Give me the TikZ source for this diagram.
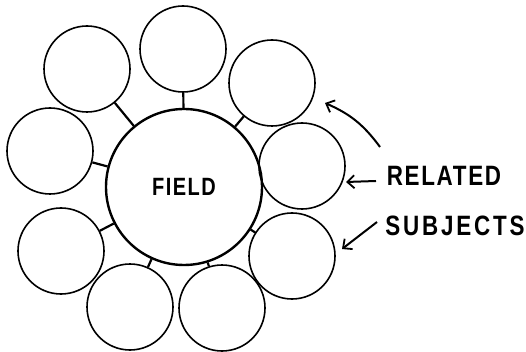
\documentclass[tikz,border=0pt]{standalone}
\usepackage{fontspec}
\newfontfamily\handfont[FakeStretch=0.8,LetterSpace=6]{Liberation Sans}
\newfontfamily\handwide[FakeStretch=0.8,LetterSpace=10]{Liberation Sans}
\usetikzlibrary{arrows.meta}
\tikzset{
  sat/.style={circle, draw, line width=1.6pt, inner sep=0pt, minimum size=86pt},
  hub/.style={circle, draw, line width=2.4pt, inner sep=0pt, minimum size=156pt, font=\handfont\bfseries\fontsize{25}{25}\selectfont},
  link/.style={line width=2.2pt},
  pointer/.style={line width=2pt, -{Straight Barb[length=7pt,width=13pt,line width=1.8pt]}},
  lbl/.style={font=\handfont\bfseries\fontsize{28}{28}\selectfont, inner sep=0pt},
  lblwide/.style={font=\handwide\bfseries\fontsize{28}{28}\selectfont, inner sep=0pt}
}
\begin{document}
\begin{tikzpicture}[x=1pt,y=-1pt]
\useasboundingbox (0,0) rectangle (526,352);
\node[hub] (c) at (184,187) {FIELD};
\node[sat] (s1) at (183,49) {};
\node[sat] (s2) at (87,69) {};
\node[sat] (s3) at (50,151) {};
\node[sat] (s4) at (61,251) {};
\node[sat] (s5) at (130,307) {};
\node[sat] (s6) at (222,308) {};
\node[sat] (s7) at (292,256) {};
\node[sat] (s8) at (302,166) {};
\node[sat] (s9) at (272,83) {};
\foreach \s in {s1,s2,s3,s4,s5,s6,s7,s8,s9} \draw[link] (c) -- (\s);
\node[lbl] (rel) at (444,176) {RELATED};
\node[lblwide] (sub) at (455,226) {SUBJECTS};
\coordinate (a1s) at (380,147);
\coordinate (a1e) at (325,103);
\coordinate (a2s) at (376,181);
\coordinate (a2e) at (346,182);
\coordinate (a3s) at (377,222);
\coordinate (a3e) at (342,249);
\draw[pointer] (a1s) to[bend right=15] (a1e);
\draw[pointer] (a2s) -- (a2e);
\draw[pointer] (a3s) -- (a3e);
\end{tikzpicture}
\end{document}
